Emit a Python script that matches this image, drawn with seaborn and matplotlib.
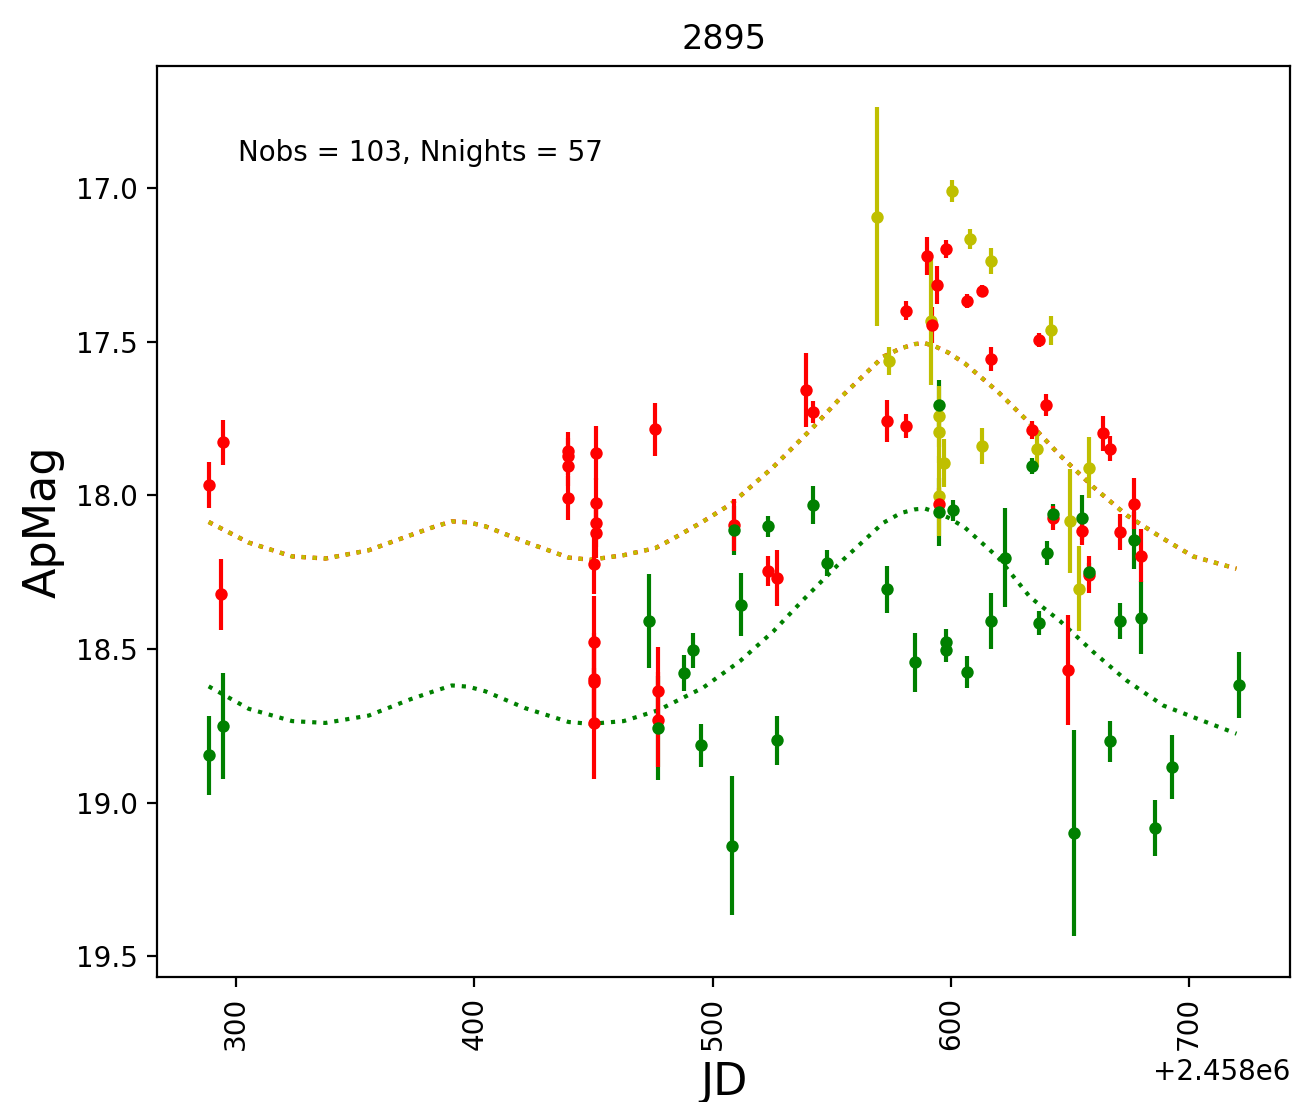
import numpy as np
import pandas as pd
import matplotlib
matplotlib.use("Agg")
import matplotlib.pyplot as plt
import seaborn as sns

JD0 = 2458000.0

# ---- observations (JD - 2458000, magnitude, error) ----
red_jd = [288.5, 294.5, 293.7, 439.2, 439.2, 439.2, 439.2, 451.2, 451.2, 451.2, 451.2,
          450.1, 450.1, 450.1, 450.1, 450.1, 475.8, 477.1, 477.1, 509.1, 523.3, 527.2,
          539.1, 542.0, 573.1, 581.0, 581.2, 589.8, 592.0, 594.0, 595.0, 597.9, 607.0,
          613.0, 616.8, 634.0, 637.0, 640.0, 643.0, 649.0, 655.0, 658.1, 664.0, 667.0,
          671.0, 677.1, 680.0]
red_mag = [17.967, 17.828, 18.323, 17.856, 17.873, 17.906, 18.009, 17.862, 18.025, 18.090, 18.123,
           18.223, 18.478, 18.597, 18.608, 18.742, 17.786, 18.637, 18.730, 18.096, 18.246, 18.269,
           17.658, 17.729, 17.759, 17.400, 17.775, 17.220, 17.446, 17.316, 18.027, 17.199, 17.367,
           17.334, 17.555, 17.788, 17.496, 17.707, 18.074, 18.570, 18.117, 18.258, 17.799, 17.848,
           18.119, 18.027, 18.197]
red_err = [0.075, 0.074, 0.115, 0.062, 0.060, 0.065, 0.072, 0.087, 0.080, 0.080, 0.080,
           0.100, 0.150, 0.150, 0.150, 0.180, 0.086, 0.143, 0.155, 0.085, 0.049, 0.090,
           0.120, 0.035, 0.068, 0.031, 0.040, 0.062, 0.060, 0.061, 0.050, 0.029, 0.022,
           0.018, 0.039, 0.030, 0.023, 0.036, 0.040, 0.179, 0.046, 0.060, 0.058, 0.042,
           0.059, 0.083, 0.086]

green_jd = [288.5, 294.5, 473.2, 477.1, 488.0, 491.9, 495.1, 508.0, 509.1, 511.9, 523.3,
            527.2, 542.0, 547.9, 573.1, 584.9, 595.0, 595.0, 598.1, 598.1, 601.0, 607.0,
            616.9, 622.8, 634.0, 637.0, 640.2, 643.0, 651.8, 655.0, 658.1, 667.0, 671.0,
            676.8, 680.0, 685.9, 692.9, 721.0]
green_mag = [18.847, 18.752, 18.410, 18.757, 18.579, 18.505, 18.814, 19.140, 18.114, 18.356, 18.101,
             18.798, 18.033, 18.220, 18.306, 18.544, 17.707, 18.054, 18.476, 18.503, 18.049, 18.575,
             18.410, 18.203, 17.905, 18.416, 18.188, 18.060, 19.100, 18.073, 18.250, 18.801, 18.409,
             18.147, 18.399, 19.083, 18.883, 18.617]
green_err = [0.127, 0.173, 0.153, 0.170, 0.059, 0.058, 0.069, 0.225, 0.080, 0.103, 0.035,
             0.079, 0.062, 0.042, 0.076, 0.096, 0.082, 0.110, 0.040, 0.040, 0.035, 0.051,
             0.091, 0.162, 0.027, 0.038, 0.040, 0.030, 0.335, 0.073, 0.030, 0.067, 0.059,
             0.093, 0.119, 0.092, 0.104, 0.107]

yellow_jd = [569.1, 574.0, 591.8, 595.0, 595.0, 595.0, 597.1, 600.7, 608.0, 613.0, 616.8,
             636.1, 641.9, 650.1, 653.9, 658.1]
yellow_mag = [17.093, 17.563, 17.432, 17.743, 17.794, 18.002, 17.895, 17.009, 17.166, 17.840, 17.237,
              17.851, 17.463, 18.084, 18.304, 17.911]
yellow_err = [0.357, 0.046, 0.209, 0.100, 0.100, 0.130, 0.079, 0.035, 0.032, 0.058, 0.042,
              0.057, 0.047, 0.170, 0.138, 0.099]

# ---- model curves ----
fit_y_jd = [288.5, 305.3, 323.5, 337.5, 355.7, 373.2, 383.0, 390.6, 397.5, 404.6, 421.4, 439.6, 448.7,
            462.7, 476.0, 483.5, 496.1, 508.0, 525.5, 542.3, 554.8, 571.6, 579.0, 584.9, 589.0, 593.3,
            599.0, 605.9, 619.9, 633.2, 645.8, 659.8, 673.8, 689.1, 701.7, 719.9]
fit_y_mag = [18.087, 18.154, 18.199, 18.206, 18.179, 18.130, 18.103, 18.085, 18.088, 18.101, 18.152, 18.203, 18.210,
             18.195, 18.172, 18.141, 18.085, 18.027, 17.908, 17.778, 17.674, 17.549, 17.522, 17.508, 17.505, 17.515,
             17.536, 17.571, 17.664, 17.766, 17.870, 17.973, 18.065, 18.141, 18.199, 18.239]

fit_g_jd = [288.5, 305.3, 323.5, 337.5, 355.7, 373.2, 383.0, 390.6, 397.5, 404.6, 421.4, 439.6, 448.7,
            462.7, 477.1, 496.1, 511.5, 525.5, 538.1, 551.4, 554.8, 571.6, 579.0, 584.9, 589.0, 593.3,
            599.0, 605.9, 619.9, 633.2, 645.8, 659.8, 673.8, 689.1, 701.7, 719.9]
fit_g_mag = [18.622, 18.695, 18.735, 18.741, 18.717, 18.664, 18.638, 18.619, 18.623, 18.638, 18.693, 18.738, 18.744,
             18.735, 18.700, 18.626, 18.540, 18.443, 18.340, 18.236, 18.210, 18.090, 18.058, 18.046, 18.043, 18.054,
             18.073, 18.105, 18.203, 18.331, 18.409, 18.510, 18.603, 18.684, 18.722, 18.776]

title = "2895"
info_text = "Nobs = 103, Nnights = 57"

plt.rcParams["lines.scale_dashes"] = False

fig = plt.figure(figsize=(6.46, 5.51), dpi=200)
ax = fig.add_axes([0.1215, 0.1134, 0.877, 0.8267])


def to_df(jd, mag):
    return pd.DataFrame({"JD": np.asarray(jd) + JD0, "ApMag": np.asarray(mag)})


# fitted curves: red dotted under yellow dotted, green dotted
dfy = to_df(fit_y_jd, fit_y_mag)
dfg = to_df(fit_g_jd, fit_g_mag)
sns.lineplot(data=dfy, x="JD", y="ApMag", ax=ax, color="r", lw=1.55,
             linestyle=(0, (1.6, 2.4)), sort=False, estimator=None, zorder=1)
sns.lineplot(data=dfy, x="JD", y="ApMag", ax=ax, color="y", lw=1.5,
             linestyle=(0, (1.5, 2.5)), sort=False, estimator=None, zorder=1.1)
sns.lineplot(data=dfg, x="JD", y="ApMag", ax=ax, color="g", lw=1.5,
             linestyle=(0, (1.5, 2.5)), sort=False, estimator=None, zorder=1.2)

# error bars
for jd, mag, err, c in [(green_jd, green_mag, green_err, "g"),
                        (red_jd, red_mag, red_err, "r"),
                        (yellow_jd, yellow_mag, yellow_err, "y")]:
    ax.errorbar(np.asarray(jd) + JD0, mag, yerr=err, fmt="none", ecolor=c,
                elinewidth=1.5, capsize=0, zorder=2)

# markers
for jd, mag, c in [(yellow_jd, yellow_mag, "y"),
                   (red_jd, red_mag, "r"),
                   (green_jd, green_mag, "g")]:
    sns.scatterplot(data=to_df(jd, mag), x="JD", y="ApMag", ax=ax, color=c,
                    s=20, linewidth=0, zorder=3)

ax.set_xlim(266.8 + JD0, 742.4 + JD0)
ax.set_ylim(19.568, 16.603)
ax.set_xticks([JD0 + v for v in (300, 400, 500, 600, 700)])
ax.set_yticks([17.0, 17.5, 18.0, 18.5, 19.0, 19.5])
ax.yaxis.set_major_formatter(matplotlib.ticker.FormatStrFormatter("%.1f"))
ax.tick_params(axis="x", labelrotation=90, labelsize=10)
ax.tick_params(axis="y", labelsize=10)
ax.set_xlabel("JD", fontsize=16)
ax.set_ylabel("ApMag", fontsize=16)
ax.set_title(title, fontsize=12)
ax.text(0.0715, 0.904, info_text, transform=ax.transAxes, fontsize=10,
        ha="left", va="center")

fig.savefig("out.png", dpi=200)
